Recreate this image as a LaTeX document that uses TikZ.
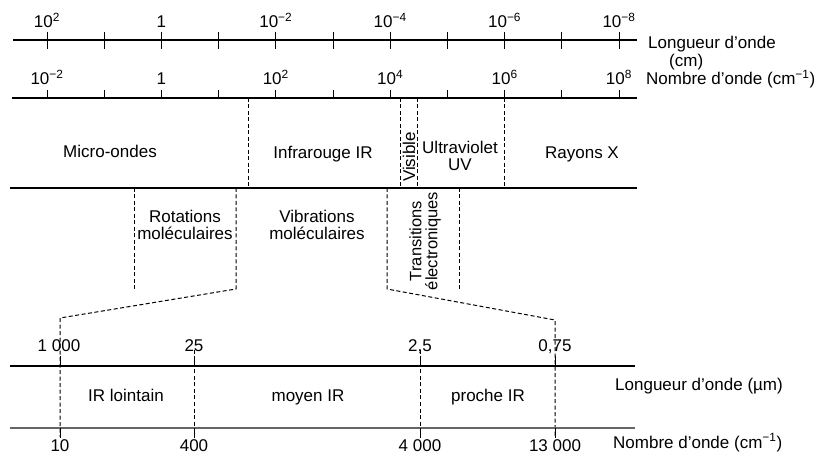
\documentclass[tikz,border=0pt]{standalone}
\usepackage{fontspec}
\setmainfont{Liberation Sans}
\newcommand\myexp[1]{\textsuperscript{#1}}
\begin{document}
\begin{tikzpicture}[x=1pt,y=-1pt,
  every node/.style={font=\fontsize{17}{16.5}\selectfont, inner sep=0pt},
  axisline/.style={line width=1.1pt, black},
  greyline/.style={line width=1.3pt, black!60},
  tickline/.style={line width=1pt},
  dashline/.style={line width=1pt, dash pattern=on 4pt off 2.5pt},
  lab/.style={anchor=base},
  rlab/.style={anchor=base west},
  zone/.style={align=center}
]
\useasboundingbox (0,0) rectangle (817,454);

% ---------- top axis: wavelength (cm)
\coordinate (L1s) at (13,40);
\coordinate (L1e) at (637,40);
\draw[axisline] (L1s) -- (L1e);
\foreach \i in {0,...,10} {
  \coordinate (t1\i) at ({47+57.2*\i},32);
  \coordinate (b1\i) at ({47+57.2*\i},49);
  \draw[tickline] (t1\i) -- (b1\i);
}
\node[lab] (w1) at (47,28) {10\myexp{2}};
\node[lab] (w2) at (161.4,28) {1};
\node[lab] (w3) at (275.8,28) {10\myexp{−2}};
\node[lab] (w4) at (390.2,28) {10\myexp{−4}};
\node[lab] (w5) at (504.6,28) {10\myexp{−6}};
\node[lab] (w6) at (619,28) {10\myexp{−8}};
\node[rlab] (lw) at (648,49) {Longueur d’onde};
\node[rlab] (lwu) at (669,67) {(cm)};

% ---------- second axis: wavenumber
\coordinate (L2s) at (12,98);
\coordinate (L2e) at (637,98);
\draw[axisline] (L2s) -- (L2e);
\foreach \i in {0,...,10} {
  \coordinate (t2\i) at ({47+57.2*\i},90);
  \coordinate (b2\i) at ({47+57.2*\i},98);
  \draw[tickline] (t2\i) -- (b2\i);
}
\node[lab] (n1) at (47,85) {10\myexp{−2}};
\node[lab] (n2) at (161.4,85) {1};
\node[lab] (n3) at (275.8,85) {10\myexp{2}};
\node[lab] (n4) at (390.2,85) {10\myexp{4}};
\node[lab] (n5) at (504.6,85) {10\myexp{6}};
\node[lab] (n6) at (619,85) {10\myexp{8}};
\node[rlab] (ln) at (646,85) {Nombre d’onde (cm\myexp{−1})};

% ---------- band of domains
\coordinate (L3s) at (10,188);
\coordinate (L3e) at (637,188);
\draw[axisline] (L3s) -- (L3e);
\draw[dashline] (248,98) -- (248,188);
\draw[dashline] (400.5,98) -- (400.5,188);
\draw[dashline] (417,98) -- (417,188);
\draw[dashline] (504,98) -- (504,188);

\node[lab] (mo) at (110,158) {Micro-ondes};
\node[lab] (ir) at (323,159) {Infrarouge IR};
\node[rotate=90] (vis) at (409,157) {Visible};
\node[zone] (uv) at (460,156) {Ultraviolet\\UV};
\node[lab] (rx) at (582,159) {Rayons X};

% ---------- transitions
\coordinate (r1) at (134,188);
\coordinate (r2) at (134,290);
\coordinate (r3) at (236,188);
\coordinate (r4) at (236,289);
\coordinate (z1) at (60,318);
\coordinate (z2) at (60,437);
\coordinate (e1) at (387,188);
\coordinate (e2) at (387,289);
\coordinate (z3) at (555,320);
\coordinate (z4) at (555,437);
\coordinate (e3) at (459,188);
\coordinate (e4) at (459,289);
\draw[dashline] (r1) -- (r2);
\draw[dashline] (r3) -- (r4) -- (z1) -- (z2);
\draw[dashline] (e1) -- (e2) -- (z3) -- (z4);
\draw[dashline] (e3) -- (e4);

\node[zone] (rot) at (185,225) {Rotations\\moléculaires};
\node[zone] (vib) at (317,225) {Vibrations\\moléculaires};
\node[zone, rotate=90, font=\fontsize{16.5}{16}\selectfont] (tel) at (425,241) {Transitions\\électroniques};

% ---------- IR detail axes
\coordinate (L4s) at (10,366);
\coordinate (L4e) at (635,366);
\coordinate (L5s) at (10,428);
\coordinate (L5e) at (635,428);
\draw[axisline] (L4s) -- (L4e);
\draw[greyline] (L5s) -- (L5e);
\draw[dashline] (194,350) -- (194,437);
\draw[dashline] (420,350) -- (420,437);
\foreach \x in {60,194,420,555} {
  \draw[tickline] (\x,356) -- (\x,366);
  \draw[tickline] (\x,428) -- (\x,438);
}
\node[lab] (a1) at (59,352) {1 000};
\node[lab] (a2) at (194,352) {25};
\node[lab] (a3) at (420,352) {2,5};
\node[lab] (a4) at (555,352) {0,75};
\node[lab] (c1) at (60,451) {10};
\node[lab] (c2) at (194,451) {400};
\node[lab] (c3) at (420,451) {4 000};
\node[lab] (c4) at (555,451) {13 000};

\node[lab] (irl) at (126,402) {IR lointain};
\node[lab] (irm) at (308,402) {moyen IR};
\node[lab] (irp) at (488,402) {proche IR};
\node[rlab] (lw2) at (615,391) {Longueur d’onde (µm)};
\node[rlab] (ln2) at (613,448) {Nombre d’onde (cm\myexp{−1})};
\end{tikzpicture}
\end{document}
